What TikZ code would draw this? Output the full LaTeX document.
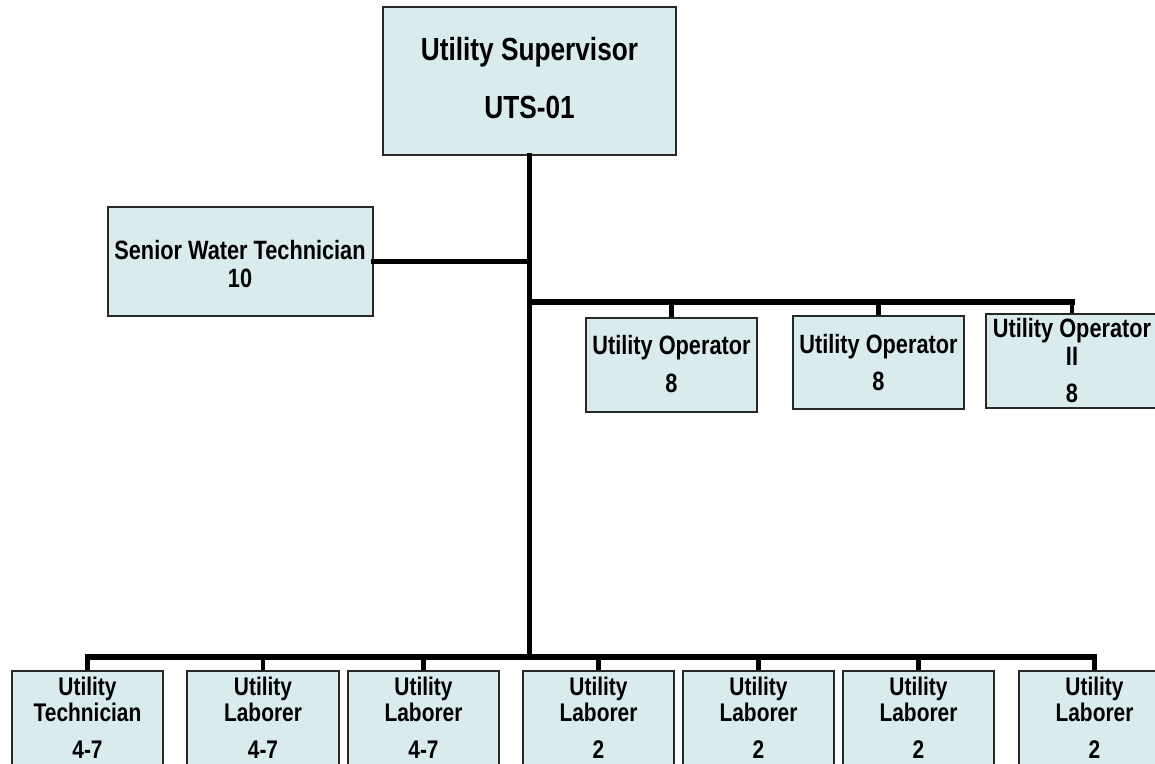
\documentclass[tikz,border=0pt]{standalone}
\usepackage{fontspec}
\newfontfamily\chartfont{Liberation Sans}[FakeStretch=0.82]
\definecolor{boxfill}{RGB}{218,235,237}
\definecolor{boxline}{RGB}{40,40,40}
\begin{document}
\begin{tikzpicture}[x=1pt,y=-1pt,
  posbox/.style={draw=boxline, line width=1.9pt, fill=boxfill, inner sep=0pt, rectangle},
  wire/.style={line width=5.5pt, line join=miter, line cap=rect},
  drop/.style={line width=4.8pt},
  lbl/.style={anchor=base, inner sep=0pt},
  big/.style={font=\chartfont\bfseries\fontsize{32}{36}\selectfont},
  mid/.style={font=\chartfont\bfseries\fontsize{26.5}{30}\selectfont},
  sml/.style={font=\chartfont\bfseries\fontsize{25.5}{28}\selectfont}]
\useasboundingbox (0,0) rectangle (1155,763);

% position boxes, placed by their centres
\node[posbox, minimum width=293pt, minimum height=148pt] (top) at (529.5,81) {};
\node[posbox, minimum width=265pt, minimum height=109pt] (senior) at (240.5,261.5) {};
\node[posbox, minimum width=171pt, minimum height=94pt] (op1) at (671.5,365) {};
\node[posbox, minimum width=171pt, minimum height=93pt] (op2) at (878.5,362.5) {};
\node[posbox, minimum width=172pt, minimum height=94pt] (op3) at (1072,361) {};
\foreach \n/\l/\r in {b1/12/163, b2/187/339, b3/348/499, b4/523/674,
                      b5/683/834, b6/843/994, b7/1019/1170}{
  \node[posbox, minimum width={\r-\l}, minimum height=101pt] (\n) at ({(\l+\r)/2},721.5) {};
}

% titles, one node per line, set on their baselines
\node[lbl,big] (top-a) at (529.5,60) {Utility Supervisor};
\node[lbl,big] (top-b) at (529.5,118) {UTS-01};
\node[lbl,mid] (senior-a) at (240,259) {Senior Water Technician};
\node[lbl,mid] (senior-b) at (240,287) {10};
\node[lbl,mid] (op1-a) at (671.5,354) {Utility Operator};
\node[lbl,mid] (op1-b) at (671.5,392) {8};
\node[lbl,mid] (op2-a) at (878.5,353) {Utility Operator};
\node[lbl,mid] (op2-b) at (878.5,390) {8};
\node[lbl,mid] (op3-a) at (1072,337) {Utility Operator};
\node[lbl,mid] (op3-b) at (1072,365) {II};
\node[lbl,mid] (op3-c) at (1072,402) {8};
\foreach \n/\t/\g in {b1/Technician/4-7, b2/Laborer/4-7, b3/Laborer/4-7,
                      b4/Laborer/2, b5/Laborer/2, b6/Laborer/2, b7/Laborer/2}{
  \node[lbl,sml] (\n-a) at (\n.north |- 0,695) {Utility};
  \node[lbl,sml] (\n-b) at (\n.north |- 0,721) {\t};
  \node[lbl,sml] (\n-c) at (\n.north |- 0,758) {\g};
}

% reporting lines
\coordinate (opbus) at (529.5,302);
\coordinate (lowbus) at (529.5,657);
\draw[wire] (top.south) -- (lowbus);
\draw[wire] (senior.east) -- (senior.east -| top.south);
\draw[wire] (opbus) -- (opbus -| op3.north);
\foreach \n in {op1,op2,op3}
  \draw[drop] (\n.north |- opbus) -- (\n.north);
\draw[wire] (lowbus -| b1.north) -- (lowbus -| b7.north);
\foreach \n in {b1,b2,b3,b4,b5,b6,b7}
  \draw[drop] (\n.north |- lowbus) -- (\n.north);
\end{tikzpicture}
\end{document}
